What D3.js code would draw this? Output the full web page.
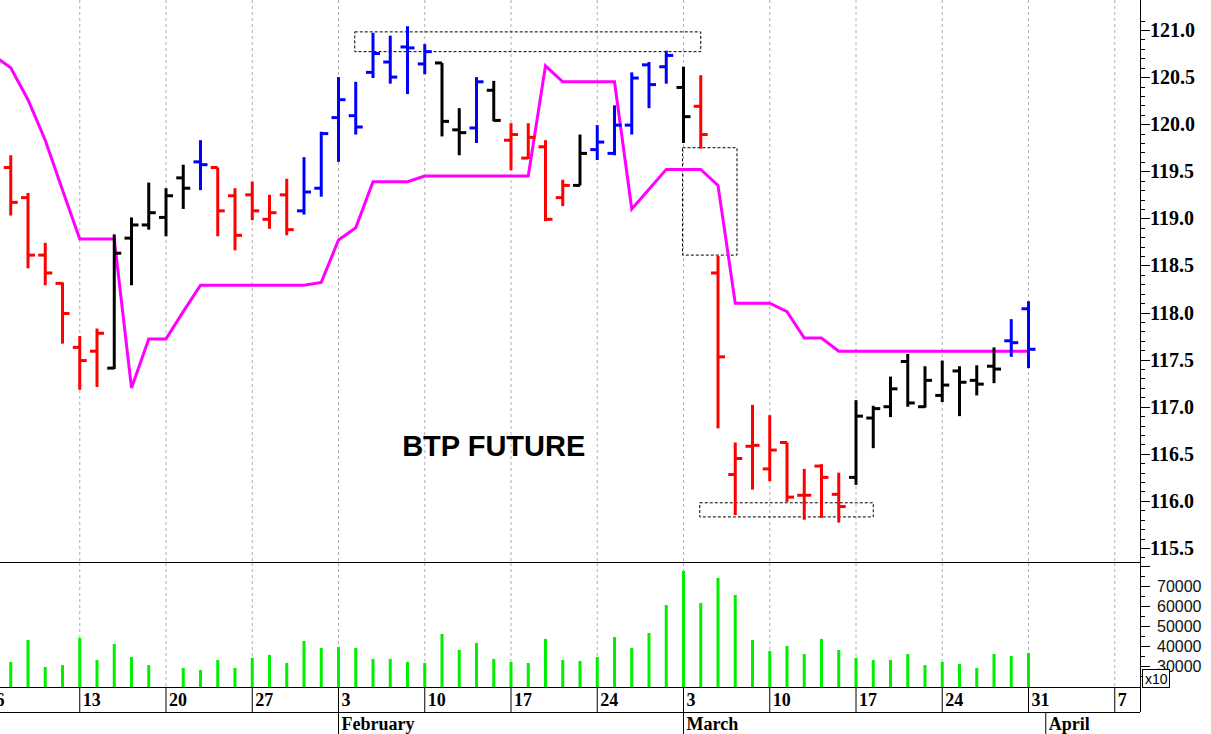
<!DOCTYPE html>
<html><head><meta charset="utf-8">
<script src="https://cdn.jsdelivr.net/npm/d3@7"></script>
<style>body{margin:0;background:#fff}svg{display:block}</style>
</head><body>
<svg id="c" width="1211" height="734"></svg>
<script>
// trading days (index 0 = Jan 6 2025, used only for the line start)
const dates = ["01-06","01-07","01-08","01-09","01-10","01-13","01-14","01-15","01-16","01-17","01-20","01-21","01-22","01-23","01-24","01-27","01-28","01-29","01-30","01-31",
"02-03","02-04","02-05","02-06","02-07","02-10","02-11","02-12","02-13","02-14","02-17","02-18","02-19","02-20","02-21","02-24","02-25","02-26","02-27","02-28",
"03-03","03-04","03-05","03-06","03-07","03-10","03-11","03-12","03-13","03-14","03-17","03-18","03-19","03-20","03-21","03-24","03-25","03-26","03-27","03-28","03-31"];
// OHLC from Jan 7 (index 1)
const open  = [119.54,119.22,118.61,118.31,117.63,117.59,117.41,118.79,118.93,119.01,119.43,119.60,119.54,119.24,119.25,118.99,119.25,119.08,119.32,
120.07,120.09,120.55,120.66,120.82,120.64,120.65,119.94,119.96,120.36,119.83,119.64,119.76,119.22,119.35,119.73,119.69,119.99,120.63,120.61,
120.39,120.19,118.42,116.28,116.58,116.34,116.62,116.06,116.37,116.07,116.25,116.88,117.00,117.48,117.00,117.12,117.38,117.28,117.43,117.70,118.04];
const high  = [119.67,119.27,118.74,118.32,117.75,117.83,118.83,119.01,119.38,119.32,119.57,119.83,119.54,119.32,119.39,119.25,119.42,119.65,119.92,
120.50,120.45,120.97,120.94,121.04,120.85,120.65,120.17,120.50,120.46,120.01,120.01,119.83,119.41,119.89,119.99,120.20,120.55,120.66,120.78,
120.61,120.52,118.60,116.62,117.02,116.91,116.62,116.34,116.39,116.30,117.07,117.01,117.32,117.56,117.43,117.49,117.43,117.44,117.63,117.93,118.12];
const low   = [119.03,118.47,118.29,117.67,117.18,117.21,117.40,118.29,118.88,118.81,119.10,119.30,118.81,118.66,118.98,118.89,118.82,119.04,119.23,
119.60,119.89,120.49,120.43,120.32,120.53,119.87,119.67,119.80,120.03,119.51,119.63,118.97,119.13,119.35,119.62,119.67,119.89,120.17,120.43,
119.80,119.74,116.77,115.85,116.12,116.21,115.99,115.80,115.82,115.77,116.17,116.56,116.89,117.00,116.99,117.05,116.90,117.12,117.25,117.53,117.41];
const close = [119.17,118.61,118.42,117.99,117.49,117.78,118.63,118.93,119.06,119.24,119.32,119.57,119.08,118.82,119.08,119.06,118.88,119.28,119.90,
120.26,119.97,120.75,120.50,120.81,120.77,120.03,119.91,120.45,120.04,119.89,119.86,118.99,119.35,119.69,119.81,119.99,120.49,120.42,120.73,
120.08,119.89,117.53,116.45,116.59,116.54,116.04,116.06,116.25,115.94,116.90,116.98,117.19,117.04,117.28,117.23,117.26,117.24,117.40,117.68,117.61];
const barColor = ["r","r","r","r","r","r","k","k","k","k","k","b","r","r","r","r","r","b","b",
"b","b","b","b","b","b","k","k","b","k","r","r","r","r","k","b","b","b","b","b",
"k","r","r","r","r","r","r","r","r","r","k","k","k","k","k","k","k","k","k","b","b"];
// trailing line from Jan 6 (index 0)
const stopLine = [120.73,120.60,120.26,119.83,119.30,118.78,118.78,118.78,117.20,117.72,117.72,118.01,118.29,118.29,118.29,118.29,118.29,118.29,118.29,118.32,
118.77,118.90,119.39,119.39,119.39,119.45,119.45,119.45,119.45,119.45,119.45,119.45,120.62,120.45,120.45,120.45,120.45,119.10,119.31,119.52,
119.52,119.52,119.35,118.10,118.10,118.10,118.01,117.73,117.73,117.59,117.59,117.59,117.59,117.59,117.59,117.59,117.59,117.59,117.59,117.59,117.59];
// volume from Jan 7 (index 1)
const volume = [32000,43000,29500,30500,44000,33000,41000,34500,30500,19600,29000,28000,33000,29000,34000,35500,31500,42500,39000,
39500,39000,33500,33500,32000,31500,46000,38000,41500,33500,32000,31500,43500,33000,32500,34500,44500,39000,46500,60500,
77500,61500,74000,65500,43000,37500,40000,36000,43500,38000,34000,33000,33000,36000,30500,32000,31000,29000,36000,35000,36500];
const priceTicks = [115.5,116.0,116.5,117.0,117.5,118.0,118.5,119.0,119.5,120.0,120.5,121.0];
const volTicks = [30000,40000,50000,60000,70000];
const weekIdx = [5,10,15,20,25,30,35,40,45,50,55,60,65];
const weekLabels = ["13","20","27","3","10","17","24","3","10","17","24","31","7"];
const monthIdx = [20,40,61];
const monthLabels = ["February","March","April"];
const boxes = [ {i0:21,i1:41,p0:120.77,p1:120.98}, {i0:40,i1:43.1,p0:118.61,p1:119.75}, {i0:41,i1:51,p0:115.83,p1:115.98} ];

const svg = d3.select("#c");
const AX = 1140;
const x = d3.scaleLinear().domain([0,65]).range([-6.5,1114.75]);
const y = d3.scaleLinear().domain([115.5,121]).range([548,30]);
const yv = d3.scaleLinear().domain([19500,81500]).range([687,563]);
const col = {r:"#ff0000",b:"#0000ff",k:"#000000"};
const serif = "'Liberation Serif','Times New Roman',serif";
const sans = "'Liberation Sans',Arial,sans-serif";

// gridlines
const g = svg.append("g");
weekIdx.forEach(i=>{
  g.append("line").attr("x1",x(i)).attr("x2",x(i)).attr("y1",0).attr("y2",562)
   .attr("stroke","#b0b0b0").attr("stroke-dasharray","3,3");
  g.append("line").attr("x1",x(i)).attr("x2",x(i)).attr("y1",563).attr("y2",687)
   .attr("stroke","#b0b0b0").attr("stroke-dasharray","3,3");
});
svg.append("line").attr("x1",x(0)).attr("x2",x(0)).attr("y1",0).attr("y2",562).attr("stroke","#b0b0b0").attr("stroke-dasharray","3,3");

// annotation boxes
boxes.forEach(b=>{
  svg.append("rect").attr("x",x(b.i0)-1).attr("y",y(b.p1)).attr("width",x(b.i1)-x(b.i0)+1).attr("height",y(b.p0)-y(b.p1))
   .attr("fill","none").attr("stroke","#000").attr("stroke-width",1).attr("stroke-dasharray","3,2");
});

// stop line
svg.append("path").datum(stopLine).attr("fill","none").attr("stroke","#ff00ff").attr("stroke-width",3)
  .attr("d",d3.line().x((d,i)=>x(i)).y(d=>y(d)));

// OHLC bars
const bars = svg.append("g");
open.forEach((o,k)=>{
  const i=k+1, cx=x(i), c=col[barColor[k]];
  bars.append("line").attr("x1",cx).attr("x2",cx).attr("y1",y(high[k])).attr("y2",y(low[k])).attr("stroke",c).attr("stroke-width",3);
  bars.append("line").attr("x1",cx-7).attr("x2",cx).attr("y1",y(o)).attr("y2",y(o)).attr("stroke",c).attr("stroke-width",3);
  bars.append("line").attr("x1",cx).attr("x2",cx+7).attr("y1",y(close[k])).attr("y2",y(close[k])).attr("stroke",c).attr("stroke-width",3);
});

// title
svg.append("text").attr("x",x(29.0)).attr("y",y(116.45)-3).attr("text-anchor","middle")
  .attr("font-family",sans).attr("font-weight","bold").attr("font-size",29).text("BTP FUTURE");

// volume bars
svg.append("g").selectAll("rect").data(volume).join("rect")
  .attr("x",(d,k)=>x(k+1)-1.5).attr("width",3).attr("y",d=>yv(d)).attr("height",d=>687-yv(d)).attr("fill","#00f000");

// panel lines
svg.append("line").attr("x1",0).attr("x2",AX).attr("y1",562.5).attr("y2",562.5).attr("stroke","#000");
svg.append("line").attr("x1",0).attr("x2",AX).attr("y1",687.5).attr("y2",687.5).attr("stroke","#000");
svg.append("line").attr("x1",0).attr("x2",AX).attr("y1",712.5).attr("y2",712.5).attr("stroke","#000");
svg.append("line").attr("x1",AX+0.5).attr("x2",AX+0.5).attr("y1",0).attr("y2",712).attr("stroke","#000");

// price axis
const pa = svg.append("g");
d3.range(1154,1212).forEach(v=>{ const p=v/10; if(y(p)<2||y(p)>560) return;
  const major = Math.abs(p*2-Math.round(p*2))<1e-6;
  pa.append("line").attr("x1",AX).attr("x2",AX+(major?10:5)).attr("y1",Math.round(y(p))+0.5).attr("y2",Math.round(y(p))+0.5).attr("stroke","#000");
});
priceTicks.forEach(p=>{
  pa.append("text").attr("x",1150).attr("y",y(p)+7).attr("font-family",serif).attr("font-weight","bold").attr("font-size",20).text(p.toFixed(1));
});
// volume axis
d3.range(25000,80001,5000).forEach(v=>{
  const major = v%10000===0;
  pa.append("line").attr("x1",AX).attr("x2",AX+(major?10:5)).attr("y1",Math.round(yv(v))+0.5).attr("y2",Math.round(yv(v))+0.5).attr("stroke","#000");
});
volTicks.forEach(v=>{
  pa.append("text").attr("x",1157).attr("y",yv(v)+6).attr("font-family",sans).attr("font-size",16).attr("fill","#111").text(v);
});
pa.append("rect").attr("x",1142.5).attr("y",669.5).attr("width",27).attr("height",18).attr("fill","#fff").attr("stroke","#000");
pa.append("text").attr("x",1145).attr("y",684).attr("font-family",sans).attr("font-size",14).text("x10");

// date axis
svg.append("text").attr("x",x(0)+2).attr("y",706).attr("font-family",serif).attr("font-weight","bold").attr("font-size",18).text("6");
weekIdx.forEach((i,k)=>{
  svg.append("line").attr("x1",x(i)).attr("x2",x(i)).attr("y1",688).attr("y2",712).attr("stroke","#000");
  svg.append("text").attr("x",x(i)+3).attr("y",706).attr("font-family",serif).attr("font-weight","bold").attr("font-size",18).text(weekLabels[k]);
});
monthIdx.forEach((i,k)=>{
  svg.append("line").attr("x1",x(i)).attr("x2",x(i)).attr("y1",712).attr("y2",734).attr("stroke","#000");
  svg.append("text").attr("x",x(i)+3).attr("y",730).attr("font-family",serif).attr("font-weight","bold").attr("font-size",18).text(monthLabels[k]);
});
</script>
</body></html>
